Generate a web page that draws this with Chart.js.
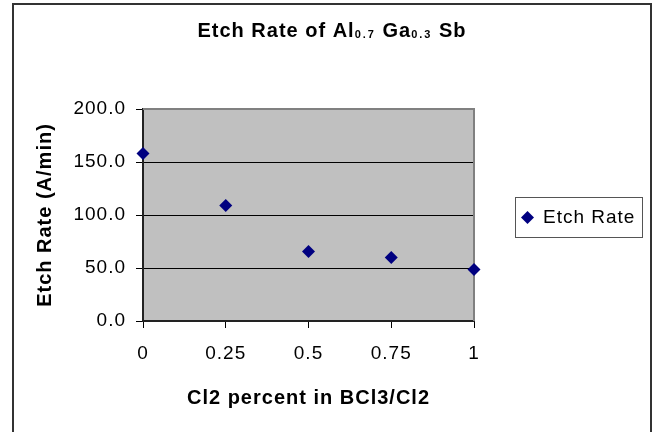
<!DOCTYPE html>
<html>
<head>
<meta charset="utf-8">
<title>Etch Rate of Al0.7Ga0.3Sb</title>
<script src="https://cdn.jsdelivr.net/npm/chart.js@4.4.1/dist/chart.umd.min.js"></script>
<style>
  body { margin: 0; background: #fff; }
  #wrap { width: 657px; height: 432px; }
</style>
</head>
<body>
<div id="wrap"><canvas id="myChart" width="657" height="432"></canvas></div>
<script>
const xLabels = ['0', '0.25', '0.5', '0.75', '1'];
const etchRate = [158, 109, 65.5, 60, 48.5];
const yTicks = [0, 50, 100, 150, 200];
const seriesName = 'Etch Rate';
const xTitle = 'Cl2 percent in BCl3/Cl2';
const yTitle = 'Etch Rate (A/min)';
const titleParts = [
    { text: 'Etch Rate of Al', sub: false },
    { text: '0.7', sub: true },
    { text: ' Ga', sub: false },
    { text: '0.3', sub: true },
    { text: ' Sb', sub: false }
];

const FONT = "'Liberation Sans', Arial, sans-serif";
const pointColor = '#000080';

// white page, outer frame, grey plot area
const chartBackground = {
    id: 'chartBackground',
    beforeUpdate(chart) {
        chart.ctx.letterSpacing = '1px';
    },
    beforeDraw(chart) {
        const ctx = chart.ctx;
        const a = chart.chartArea;
        ctx.save();
        ctx.fillStyle = '#fff';
        ctx.fillRect(0, 0, chart.width, chart.height);
        ctx.strokeStyle = '#333';
        ctx.lineWidth = 2;
        ctx.strokeRect(13, 4, 638, 460);
        ctx.fillStyle = '#c0c0c0';
        ctx.fillRect(a.left, a.top, a.right - a.left, a.bottom - a.top);
        ctx.restore();
    },
    beforeDatasetsDraw(chart) {
        const ctx = chart.ctx;
        const a = chart.chartArea;
        ctx.save();
        ctx.strokeStyle = '#808080';
        ctx.lineWidth = 2;
        ctx.beginPath();
        ctx.moveTo(a.left, a.top);
        ctx.lineTo(a.right, a.top);
        ctx.lineTo(a.right, a.bottom);
        ctx.stroke();
        ctx.restore();
    }
};

// title with subscripts
const subTitle = {
    id: 'subTitle',
    afterDraw(chart) {
        const ctx = chart.ctx;
        ctx.save();
        ctx.fillStyle = '#000';
        ctx.textBaseline = 'alphabetic';
        const setFont = p => {
            ctx.font = p.sub ? 'bold 11px ' + FONT : 'bold 20px ' + FONT;
            ctx.letterSpacing = p.sub ? '2px' : '1px';
        };
        let total = 0;
        titleParts.forEach(p => { setFont(p); total += ctx.measureText(p.text).width; });
        let x = 332 - total / 2;
        titleParts.forEach(p => {
            setFont(p);
            ctx.fillText(p.text, x, p.sub ? 38 : 37);
            x += ctx.measureText(p.text).width;
        });
        ctx.restore();
    }
};

// boxed legend on the right
const boxLegend = {
    id: 'boxLegend',
    afterDraw(chart) {
        const ctx = chart.ctx;
        const ds = chart.data.datasets[0];
        const cx = 527.5, cy = 217.5, r = 6.5;
        ctx.save();
        ctx.strokeStyle = '#555';
        ctx.lineWidth = 1;
        ctx.strokeRect(515.5, 197.5, 127, 40);
        ctx.fillStyle = ds.backgroundColor;
        ctx.beginPath();
        ctx.moveTo(cx, cy - r);
        ctx.lineTo(cx + r, cy);
        ctx.lineTo(cx, cy + r);
        ctx.lineTo(cx - r, cy);
        ctx.closePath();
        ctx.fill();
        ctx.fillStyle = '#000';
        ctx.font = '19px ' + FONT;
        ctx.letterSpacing = '1px';
        ctx.textBaseline = 'middle';
        ctx.fillText(ds.label, 543, cy);
        ctx.restore();
    }
};

const ctx = document.getElementById('myChart').getContext('2d');

new Chart(ctx, {
    type: 'line',
    data: {
        labels: xLabels,
        datasets: [{
            label: seriesName,
            data: etchRate,
            showLine: false,
            pointStyle: 'rectRot',
            pointRadius: 6.5,
            pointHoverRadius: 6.5,
            pointBorderWidth: 0,
            backgroundColor: pointColor,
            borderColor: pointColor,
            clip: false
        }]
    },
    options: {
        responsive: false,
        animation: false,
        devicePixelRatio: 1,
        layout: {
            padding: { top: 109, right: 183, bottom: 0, left: 0 }
        },
        plugins: {
            legend: { display: false },
            title: { display: false },
            tooltip: { enabled: false }
        },
        scales: {
            x: {
                type: 'category',
                offset: false,
                ticks: {
                    color: '#000',
                    font: { family: FONT, size: 19 },
                    padding: 14,
                    maxRotation: 0,
                    autoSkip: false
                },
                grid: {
                    drawOnChartArea: false,
                    offset: false,
                    tickColor: '#000',
                    tickLength: 7
                },
                border: { color: '#222', width: 2 },
                title: {
                    display: true,
                    text: xTitle,
                    color: '#000',
                    font: { family: FONT, size: 20, weight: 'bold' },
                    padding: { top: 10, bottom: 22 }
                },
                afterFit(scale) { scale.height = 111; }
            },
            y: {
                min: 0,
                max: 200,
                afterBuildTicks(scale) {
                    scale.ticks = yTicks.map(v => ({ value: v }));
                },
                ticks: {
                    color: '#000',
                    font: { family: FONT, size: 19 },
                    padding: 10,
                    callback: v => v.toFixed(1)
                },
                grid: {
                    color: c => (c.tick && c.tick.value === 200) ? 'rgba(0,0,0,0)' : '#000',
                    tickColor: '#000',
                    tickLength: 7,
                    lineWidth: 1
                },
                border: { color: '#222', width: 2 },
                title: {
                    display: true,
                    text: yTitle,
                    color: '#000',
                    font: { family: FONT, size: 20, weight: 'bold' },
                    padding: { top: 33, bottom: 0 }
                },
                afterFit(scale) { scale.width = 143; }
            }
        }
    },
    plugins: [chartBackground, subTitle, boxLegend]
});
</script>
</body>
</html>
